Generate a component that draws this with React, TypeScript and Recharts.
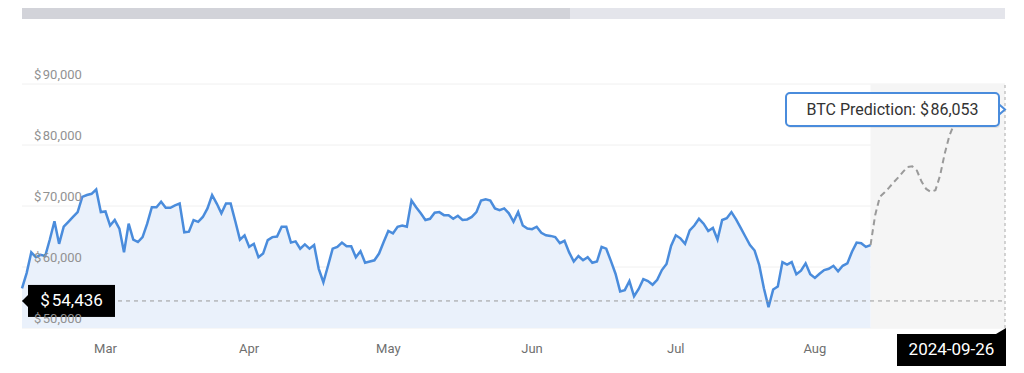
import React from 'react';
import {
  ComposedChart,
  Area,
  Line,
  XAxis,
  YAxis,
  CartesianGrid,
  ReferenceLine,
  ReferenceArea,
  ReferenceDot,
} from 'recharts';

// Daily BTC price (USD), day 0 = 2024-02-27
const prices: number[] = [
  56500, 59000, 62400, 61600, 62000, 61800, 64500, 67500, 63800, 66600,
  67400, 68200, 69000, 71500, 71800, 72000, 72700, 69000, 69100, 66800,
  67700, 66300, 62400, 67100, 64500, 64100, 64900, 67100, 69800, 69800,
  70700, 69700, 69700, 70100, 70400, 65700, 65800, 67700, 67400, 68200,
  69600, 71800, 70400, 68800, 70400, 70400, 67500, 64500, 65200, 63300,
  63800, 61600, 62200, 64400, 64900, 65000, 66600, 66600, 64000, 64200,
  63000, 63700, 63000, 63600, 59700, 57500, 60200, 63000, 63300, 64000,
  63400, 63400, 61600, 62600, 60700, 60900, 61100, 62200, 64100, 65900,
  65500, 66600, 66800, 66600, 70900, 69800, 68800, 67700, 67900, 68900,
  69000, 68500, 68500, 67900, 68400, 67700, 67800, 68200, 69000, 70900,
  71100, 70900, 69600, 69300, 69600, 68800, 67400, 69000, 66800, 66300,
  66200, 66600, 65600, 65200, 65100, 64900, 63900, 64300, 62400, 60900,
  61800, 61100, 61600, 60700, 60900, 63300, 63000, 61000, 58900, 56000,
  56200, 57700, 55200, 56400, 58000, 57700, 57100, 57900, 59500, 60500,
  63500, 65200, 64700, 63800, 66000, 66800, 67900, 67100, 65900, 66400,
  64500, 67700, 68000, 69000, 67800, 66400, 65000, 63600, 62700, 60300,
  56500, 53400, 56300, 56800, 60800, 60400, 60800, 58800, 59400, 60600,
  58800, 58200, 58900, 59500, 59700, 60200, 59300, 60200, 60600, 62500,
  64000, 63900, 63300, 63600,
];

// Forecast (USD), starting on the last price day
const forecastStartDay = 183;
const forecast: number[] = [
  63600, 68500, 71500, 72200, 73000, 73900, 74700, 75600, 76400, 76500,
  75800, 74000, 72800, 72300, 72600, 75000, 78600, 81500, 83400, 84600,
  85200, 85500, 85400, 85700, 85900, 86200, 86000, 85800, 86000, 86053,
];

const monthTicks: number[] = [18, 49, 79, 110, 141, 171];
const monthLabels: string[] = ['Mar', 'Apr', 'May', 'Jun', 'Jul', 'Aug'];
const yTicks: number[] = [50000, 60000, 70000, 80000, 90000];
const currentPrice = 54436;
const predictionPrice = 86053;
const predictionDate = '2024-09-26';
const lastDay = forecastStartDay + forecast.length - 1;

const data = Array.from({ length: lastDay + 1 }, (_, day) => ({
  day,
  price: day < prices.length ? prices[day] : undefined,
  forecast: day >= forecastStartDay ? forecast[day - forecastStartDay] : undefined,
}));

const FONT = 'Roboto, Arial, sans-serif';
const fmt = (v: number) => v.toLocaleString('en-US');

const YTick = (props: any) => {
  const { y, payload } = props;
  return (
    <text x={34} y={y - 8} fill="#929292" fontSize={13} fontFamily={FONT} dominantBaseline="middle" textAnchor="start">
      <tspan>$</tspan>
      <tspan dx={1.5}>{fmt(payload.value)}</tspan>
    </text>
  );
};

const XTick = (props: any) => {
  const { x, y, index } = props;
  return (
    <text x={x} y={y + 14} fill="#6f6f6f" fontSize={13} fontFamily={FONT} textAnchor="middle" dominantBaseline="middle">
      {monthLabels[index] ?? ''}
    </text>
  );
};

const CurrentPriceLabel = (props: any) => {
  const vb = props.viewBox || {};
  const x = vb.x ?? 0;
  const y = vb.y ?? 0;
  const bx = x + 6;
  const w = 87;
  const h = 32;
  return (
    <g>
      <polygon points={`${x},${y} ${bx},${y - 6} ${bx},${y + 6}`} fill="#000" />
      <rect x={bx} y={y - h / 2} width={w} height={h} fill="#000" />
      <text x={bx + w / 2} y={y + 1} fill="#fff" fontSize={17} fontFamily={FONT} textAnchor="middle" dominantBaseline="middle">
        <tspan>$</tspan>
        <tspan dx={2}>{fmt(currentPrice)}</tspan>
      </text>
    </g>
  );
};

const DateLabel = (props: any) => {
  const vb = props.viewBox || {};
  const right = (vb.x ?? 0) + 1;
  const bottom = (vb.y ?? 0) + (vb.height ?? 0);
  const w = 109;
  const h = 32;
  const top = bottom + 6;
  return (
    <g>
      <polygon points={`${right - 10},${top} ${right},${top - 6} ${right},${top}`} fill="#000" />
      <rect x={right - w} y={top} width={w} height={h} fill="#000" />
      <text x={right - w / 2} y={top + h / 2 + 1} fill="#fff" fontSize={17} fontFamily={FONT} textAnchor="middle" dominantBaseline="middle">
        {predictionDate}
      </text>
    </g>
  );
};

const PredictionLabel = (props: any) => {
  const vb = props.viewBox || {};
  const cx = (vb.x ?? 0) + (vb.width ?? 0) / 2;
  const cy = (vb.y ?? 0) + (vb.height ?? 0) / 2 + 1.5;
  const w = 213;
  const h = 33;
  const bx = cx - 6 - w;
  return (
    <g>
      <rect x={bx + 1} y={cy - h / 2 + 2} width={w} height={h} rx={4} fill="rgba(0,0,0,0.08)" />
      <polygon points={`${cx - 7},${cy - 6} ${cx},${cy} ${cx - 7},${cy + 6}`} fill="#fff" stroke="#4a8cdc" strokeWidth={2} />
      <rect x={bx} y={cy - h / 2} width={w} height={h} rx={4} fill="#fff" stroke="#4a8cdc" strokeWidth={2} />
      <text x={bx + w / 2} y={cy + 1} fill="#333" fontSize={16} fontFamily={FONT} textAnchor="middle" dominantBaseline="middle">
        <tspan>BTC Prediction: $</tspan>
        <tspan dx={1.5}>{fmt(predictionPrice)}</tspan>
      </text>
    </g>
  );
};

export default function App() {
  return (
    <div style={{ position: 'absolute', left: 0, top: 0, width: 1024, height: 373, background: '#fff' }}>
      <div style={{ position: 'absolute', left: 22, top: 8, width: 983, height: 11, background: '#e4e5eb' }} />
      <div style={{ position: 'absolute', left: 22, top: 8, width: 548, height: 11, background: '#d2d3d9' }} />
      <ComposedChart
        width={1024}
        height={373}
        data={data}
        margin={{ top: 84, right: 19, bottom: 15, left: 0 }}
      >
        <CartesianGrid vertical={false} stroke="#f0f0f0" />
        <ReferenceArea x1={forecastStartDay} x2={lastDay} y1={50000} y2={90000} fill="#f5f5f5" fillOpacity={1} stroke="none" />
        <XAxis
          dataKey="day"
          type="number"
          domain={[0, lastDay]}
          ticks={monthTicks}
          tick={<XTick />}
          axisLine={false}
          tickLine={false}
          height={30}
          interval={0}
        />
        <YAxis
          type="number"
          domain={[50000, 90000]}
          ticks={yTicks}
          tick={<YTick />}
          axisLine={false}
          tickLine={false}
          width={22}
          interval={0}
        />
        <Area
          type="linear"
          dataKey="price"
          stroke="#4a8cdc"
          strokeWidth={2.5}
          fill="#eaf1fb"
          fillOpacity={1}
          dot={false}
          activeDot={false}
          isAnimationActive={false}
        />
        <Line
          type="linear"
          dataKey="forecast"
          stroke="#9a9a9a"
          strokeWidth={2}
          strokeDasharray="6 4"
          dot={false}
          activeDot={false}
          isAnimationActive={false}
        />
        <ReferenceLine y={currentPrice} stroke="#9a9a9a" strokeDasharray="4 4" strokeWidth={1} label={<CurrentPriceLabel />} />
        <ReferenceLine x={lastDay} stroke="#aaaaaa" strokeDasharray="3 3" strokeWidth={1} label={<DateLabel />} />
        <ReferenceDot x={lastDay} y={predictionPrice} r={0} fill="none" stroke="none" label={<PredictionLabel />} />
      </ComposedChart>
    </div>
  );
}
